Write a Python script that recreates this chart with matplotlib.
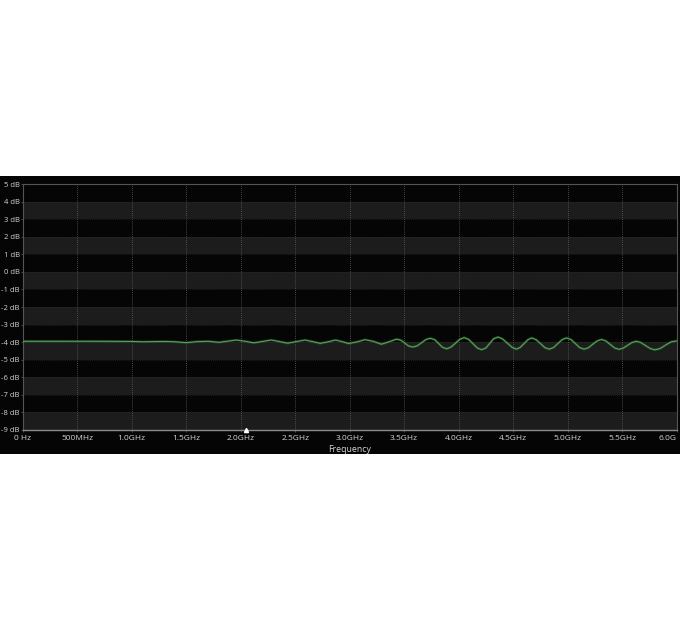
import matplotlib
matplotlib.use("Agg")
import matplotlib.pyplot as plt
from matplotlib.patches import Rectangle

# Frequency in GHz, magnitude in dB
freq_ghz = [0.00, 0.25, 0.50, 0.75, 1.00, 1.10, 1.20, 1.30, 1.40, 1.50, 1.60, 1.70, 1.80, 1.90,
            1.96, 2.04, 2.12, 2.20, 2.28, 2.35, 2.43, 2.51, 2.59, 2.66, 2.73, 2.81, 2.87, 2.93,
            2.99, 3.07, 3.14, 3.22, 3.29, 3.36,
            3.43, 3.47, 3.505, 3.54, 3.58, 3.62, 3.66, 3.70, 3.74, 3.78, 3.815, 3.85, 3.89,
            3.93, 3.97, 4.01, 4.05, 4.09, 4.13, 4.17, 4.21, 4.25, 4.285, 4.32, 4.36, 4.40,
            4.445, 4.49, 4.53, 4.565, 4.60, 4.635, 4.67, 4.71, 4.75, 4.79, 4.83, 4.87, 4.91,
            4.95, 4.99, 5.03, 5.07, 5.11, 5.15, 5.19, 5.23, 5.27, 5.31, 5.35, 5.39, 5.43,
            5.47, 5.51, 5.55, 5.59, 5.63, 5.67, 5.715, 5.76, 5.80, 5.85, 5.90, 5.95, 6.00]
gain_db = [-3.95, -3.95, -3.95, -3.95, -3.96, -3.98, -3.97, -3.96, -3.98, -4.03, -3.97, -3.95, -4.01, -3.93,
           -3.88, -3.95, -4.04, -3.96, -3.88, -3.96, -4.06, -3.97, -3.88, -3.97, -4.07, -3.97, -3.88, -3.97,
           -4.08, -3.98, -3.86, -3.96, -4.12, -3.98,
           -3.83, -3.89, -4.05, -4.22, -4.28, -4.21, -4.03, -3.85, -3.78, -3.86, -4.07, -4.29, -4.38,
           -4.28, -4.06, -3.84, -3.74, -3.84, -4.08, -4.33, -4.43, -4.33, -4.07, -3.81, -3.71, -3.81,
           -4.05, -4.30, -4.40, -4.30, -4.08, -3.86, -3.76, -3.86, -4.08, -4.31, -4.40, -4.31, -4.08,
           -3.85, -3.76, -3.85, -4.08, -4.31, -4.40, -4.32, -4.12, -3.93, -3.85, -3.93, -4.13, -4.33,
           -4.41, -4.34, -4.18, -4.02, -3.95, -4.02, -4.20, -4.37, -4.44, -4.36, -4.16, -3.98, -3.93]

x_ticks = [0.0, 0.5, 1.0, 1.5, 2.0, 2.5, 3.0, 3.5, 4.0, 4.5, 5.0, 5.5, 6.0]
x_labels = ["0 Hz", "500MHz", "1.0GHz", "1.5GHz", "2.0GHz", "2.5GHz", "3.0GHz",
            "3.5GHz", "4.0GHz", "4.5GHz", "5.0GHz", "5.5GHz", "6.0G"]
y_ticks = list(range(-9, 6))
y_labels = [f"{v} dB" for v in y_ticks]
marker_ghz = [2.05]

plt.rcParams['font.family'] = ['Open Sans', 'DejaVu Sans']

fig = plt.figure(figsize=(6.8, 6.3), dpi=100)
fig.patch.set_facecolor('white')
bg = Rectangle((0, 176/630), 1, 278/630, transform=fig.transFigure,
               facecolor='#050505', edgecolor='none', zorder=-5)
fig.patches.append(bg)

ax = fig.add_axes([22.7/680, (630-430)/630, 654/680, 246/630])
ax.set_zorder(1)
ax.set_facecolor('#050505')
ax.set_xlim(0, 6.0)
ax.set_ylim(-9, 5)

for lo in range(-9, 5):
    # grey bands: -9..-8, -7..-6, -5..-4, -3..-2, -1..0, 1..2, 3..4
    if (lo + 9) % 2 == 0:
        ax.axhspan(lo, lo + 1, facecolor='#1c1c1c', edgecolor='none', zorder=0)

for xv in x_ticks[1:-1]:
    ax.axvline(xv, color='#5e5e5e', lw=0.6, ls=(0, (1, 1.5)), zorder=1)
for yv in y_ticks[1:-1]:
    ax.axhline(yv, color='#363636', lw=0.5, ls=(0, (1, 2)), zorder=1)

ax.plot(freq_ghz, gain_db, color='#2f6f34', lw=1.8, alpha=0.5, zorder=3)
ax.plot(freq_ghz, gain_db, color='#5aa85e', lw=0.7, zorder=4)
ax.plot(marker_ghz, [-9] * len(marker_ghz), marker='^', color='white', ms=3,
        clip_on=False, zorder=5, ls='none')

for s in ['top', 'right', 'left']:
    ax.spines[s].set_color('#555555')
    ax.spines[s].set_linewidth(0.8)
ax.spines['bottom'].set_color('#8a8a8a')
ax.spines['bottom'].set_linewidth(1.0)

ax.set_xticks(x_ticks)
ax.set_xticklabels(x_labels)
ax.set_yticks(y_ticks)
ax.set_yticklabels(y_labels)
ax.tick_params(axis='both', colors='#555555', labelcolor='#d4d4d4',
               length=1.5, width=0.6)
ax.tick_params(axis='y', pad=0.6, labelsize=5.5)
ax.tick_params(axis='x', pad=2, labelsize=6)
ax.get_xticklabels()[-1].set_horizontalalignment('right')
ax.get_xticklabels()[-1].set_x(6.0)
ax.set_xlabel('Frequency', color='#d4d4d4', fontsize=6.3, labelpad=2)

fig.savefig('out.png', dpi=100, facecolor='white')
